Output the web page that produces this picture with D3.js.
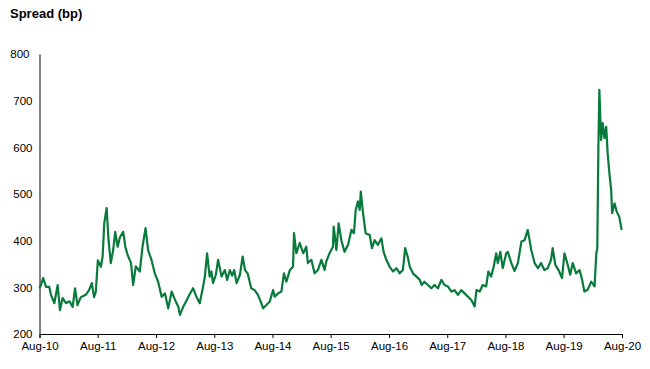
<!DOCTYPE html>
<html>
<head>
<meta charset="utf-8">
<script src="https://cdn.jsdelivr.net/npm/d3@7"></script>
<style>
  html, body { margin: 0; padding: 0; background: #fff; }
  svg { display: block; font-family: "Liberation Sans", Arial, sans-serif; }
</style>
</head>
<body>
<svg id="chart" width="650" height="369"></svg>
<script>
const title = "Spread (bp)";
const yTicks = [200, 300, 400, 500, 600, 700, 800];
const xTickLabels = ["Aug-10","Aug-11","Aug-12","Aug-13","Aug-14","Aug-15","Aug-16","Aug-17","Aug-18","Aug-19","Aug-20"];

const dates = [
"2010-08-01","2010-08-10","2010-08-24","2010-09-11","2010-10-01","2010-10-12","2010-11-02","2010-11-23","2010-12-07","2010-12-24",
"2011-01-14","2011-02-05","2011-02-25","2011-03-12","2011-03-27","2011-04-17","2011-05-18","2011-06-08","2011-06-25","2011-07-09",
"2011-07-20","2011-08-02","2011-08-21","2011-09-01","2011-09-11","2011-09-26","2011-10-08","2011-10-22","2011-11-06","2011-11-19",
"2011-12-04","2011-12-18","2012-01-08","2012-01-21","2012-02-05","2012-02-26","2012-03-10","2012-03-27","2012-04-21","2012-05-08",
"2012-05-27","2012-06-12","2012-07-03","2012-07-24","2012-08-14","2012-09-05","2012-09-26","2012-10-16","2012-11-07","2012-11-28",
"2012-12-18","2012-12-29","2013-01-19","2013-02-10","2013-02-26","2013-03-21","2013-04-11","2013-05-02","2013-05-23","2013-06-03",
"2013-06-17","2013-07-03","2013-07-14","2013-07-24","2013-08-11","2013-08-25","2013-09-16","2013-10-06","2013-10-21","2013-11-07",
"2013-11-21","2013-12-04","2013-12-19","2014-01-09","2014-01-26","2014-02-10","2014-02-26","2014-03-11","2014-03-21","2014-04-11",
"2014-05-02","2014-05-23","2014-06-03","2014-06-24","2014-07-14","2014-08-05","2014-08-15","2014-09-05","2014-09-26","2014-10-12",
"2014-10-27","2014-11-18","2014-12-08","2014-12-14","2014-12-29","2015-01-19","2015-02-10","2015-03-01","2015-03-11","2015-04-02",
"2015-04-22","2015-05-13","2015-06-04","2015-06-24","2015-07-04","2015-07-25","2015-08-15","2015-08-20","2015-09-06","2015-09-20",
"2015-10-07","2015-10-27","2015-11-18","2015-12-09","2015-12-25","2016-01-05","2016-01-19","2016-01-30","2016-02-06","2016-02-20",
"2016-03-07","2016-04-02","2016-04-16","2016-05-03","2016-05-23","2016-06-14","2016-06-28","2016-07-15","2016-08-05","2016-08-26",
"2016-09-16","2016-10-07","2016-10-27","2016-11-10","2016-11-28","2016-12-09","2016-12-29","2017-01-20","2017-02-10","2017-02-21",
"2017-03-11","2017-04-02","2017-04-23","2017-05-13","2017-06-04","2017-06-25","2017-07-15","2017-08-05","2017-08-27","2017-09-16",
"2017-10-07","2017-10-28","2017-11-18","2017-12-09","2017-12-30","2018-01-20","2018-01-31","2018-02-21","2018-03-11","2018-04-02",
"2018-04-16","2018-05-03","2018-05-19","2018-06-04","2018-06-14","2018-06-30","2018-07-15","2018-08-06","2018-08-16","2018-09-07",
"2018-09-27","2018-10-18","2018-11-09","2018-11-29","2018-12-19","2019-01-10","2019-01-31","2019-02-21","2019-03-12","2019-04-02",
"2019-04-23","2019-05-14","2019-05-24","2019-06-10","2019-06-30","2019-07-22","2019-08-06","2019-08-27","2019-09-11","2019-09-27",
"2019-10-18","2019-11-09","2019-11-25","2019-12-09","2019-12-30","2020-01-21","2020-02-11","2020-02-22","2020-02-28","2020-03-06",
"2020-03-12","2020-03-23","2020-04-02","2020-04-13","2020-04-24","2020-05-03","2020-05-14","2020-05-25","2020-05-31","2020-06-15",
"2020-06-29","2020-07-15","2020-07-30"
];

const spread = [
298,305,320,301,301,284,266,305,251,277,
266,270,258,298,262,279,284,294,309,279,
290,358,344,366,437,470,401,352,380,419,
387,407,419,387,369,352,305,345,334,387,
427,380,359,330,312,280,287,255,291,273,
259,241,259,273,284,298,280,266,302,323,
373,323,334,309,327,359,323,337,316,337,
325,337,309,327,366,337,330,312,298,294,
284,266,255,262,269,294,280,287,291,330,
312,337,344,416,373,395,373,387,352,359,
330,337,359,337,355,373,387,430,380,437,
401,376,391,423,416,466,484,466,505,459,
416,412,384,401,391,405,376,359,344,334,
341,330,337,384,363,344,330,323,316,305,
312,305,298,305,298,316,305,302,291,294,
284,294,287,280,273,259,294,291,305,302,
334,323,344,373,352,376,341,373,376,352,
335,352,398,401,423,380,352,341,352,337,
341,359,384,348,337,320,373,348,327,352,
330,337,316,291,295,312,302,373,384,601,
723,616,652,620,644,587,544,509,459,480,
462,451,423
];

const svg = d3.select("#chart");
const plotLeft = 39.5, plotRight = 622, plotTop = 54, plotBottom = 334;

const parse = d3.timeParse("%Y-%m-%d");
const data = dates.map((d, i) => ({ date: parse(d), value: spread[i] }));
const tickDates = xTickLabels.map((l, i) => new Date(2010 + i, 7, 1));

const x = d3.scaleTime()
  .domain([new Date(2010, 7, 1), new Date(2020, 7, 1)])
  .range([plotLeft, plotRight]);
const y = d3.scaleLinear().domain([200, 800]).range([plotBottom, plotTop]);

// Title
svg.append("text")
  .attr("x", 10).attr("y", 18)
  .attr("font-size", 13).attr("font-weight", "bold")
  .attr("fill", "#000")
  .text(title);

// Y axis
const yAxis = d3.axisLeft(y).tickValues(yTicks).tickSize(0).tickPadding(7).tickFormat(d3.format("d"));
const gy = svg.append("g").attr("transform", `translate(${plotLeft},0)`).call(yAxis);
gy.select(".domain").attr("stroke", "#000").attr("stroke-width", 1);
gy.selectAll("text").attr("font-size", 11.5).attr("fill", "#000")
  .attr("font-family", "Liberation Sans, Arial, sans-serif");
gy.selectAll(".tick").filter(d => d === 800).select("text").attr("dx", -3);

// X axis
const xAxis = d3.axisBottom(x).tickValues(tickDates).tickSize(4).tickPadding(4)
  .tickFormat((d, i) => xTickLabels[i]);
const gx = svg.append("g").attr("transform", `translate(0,${plotBottom})`).call(xAxis);
gx.select(".domain").attr("stroke", "#000").attr("stroke-width", 1);
gx.selectAll("line").attr("stroke", "#000");
gx.selectAll("text").attr("font-size", 11.5).attr("fill", "#000")
  .attr("font-family", "Liberation Sans, Arial, sans-serif");

// Line
const line = d3.line().x(d => x(d.date)).y(d => y(d.value));
svg.append("path")
  .datum(data)
  .attr("fill", "none")
  .attr("stroke", "#087a3b")
  .attr("stroke-width", 2.2)
  .attr("stroke-linejoin", "round")
  .attr("d", line);
</script>
</body>
</html>
